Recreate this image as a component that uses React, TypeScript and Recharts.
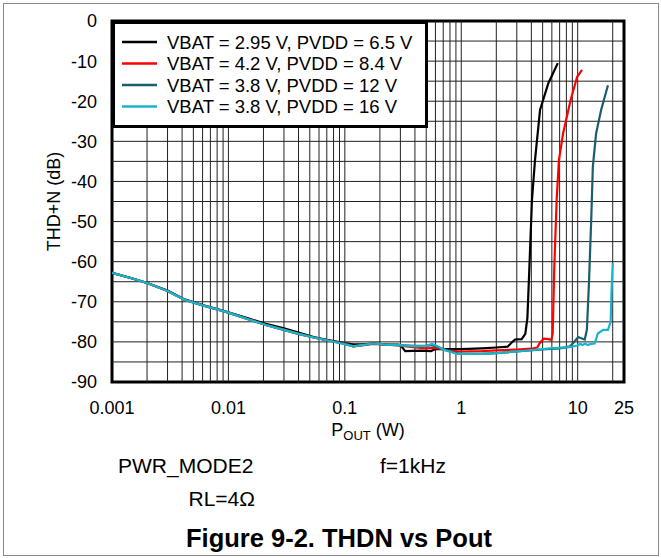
import { LineChart, Line, XAxis, YAxis, ReferenceLine, ReferenceArea } from 'recharts';

const xTicks = [0.001, 0.01, 0.1, 1, 10, 25];
const yTicks = [-90, -80, -70, -60, -50, -40, -30, -20, -10, 0];
const xGrid = [
	0.002, 0.003, 0.004, 0.005, 0.006, 0.007, 0.008, 0.009, 0.01,
	0.02, 0.03, 0.04, 0.05, 0.06, 0.07, 0.08, 0.09, 0.1,
	0.2, 0.3, 0.4, 0.5, 0.6, 0.7, 0.8, 0.9, 1,
	2, 3, 4, 5, 6, 7, 8, 9, 10, 20,
];
const yGrid = [-85, -80, -75, -70, -65, -60, -55, -50, -45, -40, -35, -30, -25, -20, -15, -10, -5];

const seriesNames = [
	'VBAT = 2.95 V, PVDD = 6.5 V',
	'VBAT = 4.2 V, PVDD = 8.4 V',
	'VBAT = 3.8 V, PVDD = 12 V',
	'VBAT = 3.8 V, PVDD = 16 V',
];
const seriesColors = ['#000000', '#ff0000', '#1b5d6d', '#1ab4c8'];

// [Pout (W), THD+N (dB)]
const vbat295: [number, number][] = [
	[0.001, -62.8], [0.0015, -64.2], [0.002, -65.3], [0.003, -67.2], [0.0042, -69.4], [0.006, -70.8],
	[0.008, -71.8], [0.01, -72.6], [0.015, -74.2], [0.021, -75.5], [0.03, -76.6], [0.04, -77.7],
	[0.054, -78.8], [0.07, -79.5], [0.1, -80.3], [0.118, -80.6], [0.14, -80.6], [0.176, -80.4],
	[0.22, -80.6], [0.29, -80.7], [0.31, -81.3], [0.33, -82.3], [0.45, -82.2], [0.55, -82.3],
	[0.6, -81.8], [0.8, -81.8], [1.0, -81.8], [1.5, -81.6], [2.0, -81.4], [2.5, -81.2],
	[2.7, -80.2], [2.9, -79.4], [3.3, -79.3], [3.55, -78.0], [3.7, -74.0], [3.85, -61.3],
	[4.05, -44.6], [4.3, -34.7], [4.75, -22.2], [5.6, -15.5], [6.75, -10.5],
];
const vbat42: [number, number][] = [
	[0.001, -62.8], [0.0015, -64.2], [0.002, -65.3], [0.003, -67.3], [0.0042, -69.5], [0.006, -70.9],
	[0.008, -71.9], [0.01, -72.7], [0.015, -74.4], [0.021, -75.8], [0.03, -77.0], [0.04, -78.0],
	[0.054, -78.9], [0.07, -79.6], [0.1, -80.4], [0.118, -81.1], [0.14, -80.9], [0.176, -80.5],
	[0.22, -80.7], [0.29, -80.9], [0.4, -81.4], [0.5, -81.6], [0.6, -81.5], [0.8, -82.2],
	[1.0, -82.4], [1.5, -82.3], [2.0, -82.1], [3.0, -81.9], [4.0, -81.7], [4.5, -81.4],
	[4.7, -80.4], [5.1, -79.2], [5.6, -79.3], [5.95, -79.5], [6.1, -77.9], [6.3, -61.3],
	[6.6, -44.6], [6.9, -34.7], [7.5, -28.0], [8.7, -19.7], [9.9, -13.9], [10.9, -12.2],
];
const vbat38p12: [number, number][] = [
	[0.001, -62.8], [0.0015, -64.2], [0.002, -65.3], [0.003, -67.3], [0.0042, -69.5], [0.006, -70.9],
	[0.008, -71.9], [0.01, -72.7], [0.015, -74.4], [0.021, -75.8], [0.03, -77.0], [0.04, -78.0],
	[0.054, -78.9], [0.07, -79.6], [0.1, -80.5], [0.118, -81.1], [0.14, -80.8], [0.176, -80.4],
	[0.22, -80.7], [0.29, -80.8], [0.4, -81.0], [0.5, -81.0], [0.56, -80.8], [0.7, -81.8],
	[0.9, -82.8], [1.0, -83.0], [1.5, -83.0], [2.0, -82.8], [3.0, -82.4], [5.0, -81.9],
	[7.0, -81.6], [8.5, -81.2], [9.2, -80.2], [10.1, -78.8], [11.0, -79.2], [11.5, -79.4],
	[12.0, -77.0], [12.5, -65.4], [13.1, -48.8], [13.5, -36.3], [14.4, -28.0], [15.9, -22.2], [18.2, -16.0],
];
const vbat38p16: [number, number][] = [
	[0.001, -62.8], [0.0015, -64.2], [0.002, -65.3], [0.003, -67.3], [0.0042, -69.5], [0.006, -70.9],
	[0.008, -71.9], [0.01, -72.7], [0.015, -74.4], [0.021, -75.8], [0.03, -77.0], [0.04, -78.0],
	[0.054, -78.9], [0.07, -79.6], [0.1, -80.6], [0.118, -81.1], [0.14, -80.8], [0.176, -80.4],
	[0.22, -80.7], [0.29, -80.8], [0.41, -81.1], [0.5, -81.0], [0.56, -80.5], [0.62, -81.0],
	[0.71, -82.0], [0.9, -82.9], [1.0, -83.0], [1.5, -83.0], [2.0, -82.8], [3.0, -82.4],
	[5.8, -81.6], [8.5, -81.3], [10.0, -80.9], [10.5, -80.5], [11.0, -80.8], [11.6, -80.4],
	[12.2, -80.8], [13.0, -80.5], [14.0, -80.4], [14.9, -77.9], [16.6, -77.0], [18.2, -77.0],
	[19.2, -75.0], [19.5, -67.9], [20.0, -60.4],
];

const allSeries = [vbat295, vbat42, vbat38p12, vbat38p16].map((pts) => pts.map(([p, db]) => ({ p, db })));

const font = '"Liberation Sans", Arial, sans-serif';

const PoutLabel = () => (
	<text x={368} y={436} textAnchor="middle" fontFamily={font} fontSize={18} fill="#000">
		<tspan>P</tspan>
		<tspan fontSize={13} dy={4}>OUT</tspan>
		<tspan dy={-4}> (W)</tspan>
	</text>
);

export default function App() {
	return (
		<div style={{ position: 'absolute', left: 0, top: 0, width: 661, height: 558, background: '#fff', fontFamily: font }}>
			<div style={{ position: 'absolute', left: 3, top: 3, width: 654, height: 551, border: '1px solid #8a8a8a' }} />
			<div style={{ position: 'absolute', left: 0, top: 0 }}>
				<LineChart width={661} height={442} margin={{ top: 21, right: 37, left: 0, bottom: 0 }}>
					<XAxis
						dataKey="p"
						type="number"
						scale="log"
						domain={[0.001, 25]}
						ticks={xTicks}
						allowDataOverflow
						axisLine={false}
						tickLine={false}
						tickMargin={13}
						height={60}
						tick={{ fontSize: 18, fill: '#000', fontFamily: font }}
						tickFormatter={(v: number) => String(v)}
						label={<PoutLabel />}
					/>
					<YAxis
						type="number"
						domain={[-90, 0]}
						ticks={yTicks}
						width={112}
						axisLine={false}
						tickLine={false}
						tickMargin={9}
						tick={{ fontSize: 18, fill: '#000', fontFamily: font }}
						label={{
							value: 'THD+N (dB)',
							angle: -90,
							position: 'insideLeft',
							dx: 49,
							style: { fontSize: 18, fill: '#000', fontFamily: font, textAnchor: 'middle' },
						}}
					/>
					{xGrid.map((v) => (
						<ReferenceLine key={'x' + v} x={v} stroke="#222" strokeWidth={1} />
					))}
					{yGrid.map((v) => (
						<ReferenceLine key={'y' + v} y={v} stroke="#222" strokeWidth={1} />
					))}
					{allSeries.map((d, i) => (
						<Line
							key={seriesNames[i]}
							data={d}
							dataKey="db"
							name={seriesNames[i]}
							type="linear"
							stroke={seriesColors[i]}
							strokeWidth={2.2}
							dot={false}
							activeDot={false}
							isAnimationActive={false}
						/>
					))}
					<ReferenceArea x1={0.001} x2={25} y1={-90} y2={0} fill="none" fillOpacity={0} stroke="#000" strokeWidth={3} />
				</LineChart>
			</div>
			<svg style={{ position: 'absolute', left: 112, top: 21 }} width={316} height={107}>
				<rect x={1.5} y={1.5} width={313} height={104} fill="#fff" stroke="#000" strokeWidth={3} />
				{seriesNames.map((name, i) => (
					<g key={name}>
						<line x1={10} x2={45} y1={21 + i * 21.5} y2={21 + i * 21.5} stroke={seriesColors[i]} strokeWidth={2.5} />
						<text x={55} y={27.5 + i * 21.5} fontSize={18.5} fontFamily={font} fill="#000">
							{name}
						</text>
					</g>
				))}
			</svg>
			<svg style={{ position: 'absolute', left: 0, top: 440 }} width={661} height={118}>
				<text x={118} y={33} fontSize={21} fontFamily={font} fill="#000">PWR_MODE2</text>
				<text x={380} y={33} fontSize={21} fontFamily={font} fill="#000">f=1kHz</text>
				<text x={255} y={66} fontSize={21} fontFamily={font} fill="#000" textAnchor="end">RL=4Ω</text>
				<text x={339} y={107} fontSize={25.5} fontFamily={font} fontWeight="bold" fill="#000" textAnchor="middle">
					Figure 9-2. THDN vs Pout
				</text>
			</svg>
		</div>
	);
}
